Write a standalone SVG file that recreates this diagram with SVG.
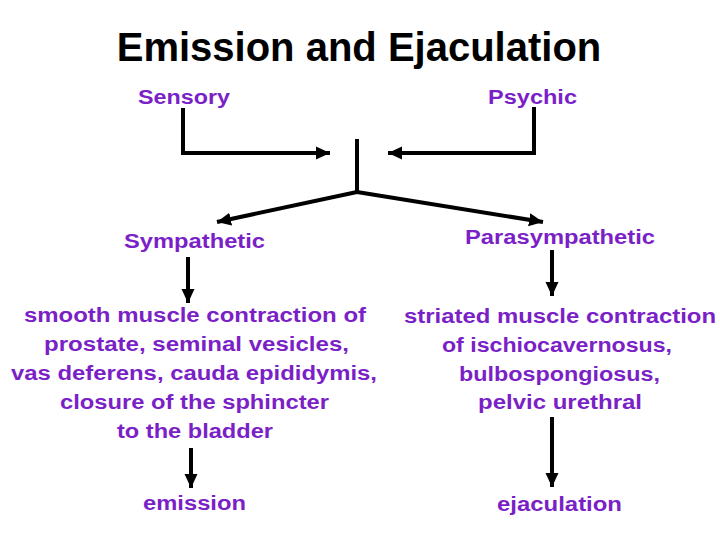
<svg xmlns="http://www.w3.org/2000/svg" width="720" height="540" viewBox="0 0 720 540">
<defs>
<marker id="ah" markerUnits="userSpaceOnUse" markerWidth="16" markerHeight="16" viewBox="0 0 16 16" refX="14" refY="8" orient="auto">
<path d="M0,1.5 L14,8 L0,14.5 Z" fill="#000"/>
</marker>
<style>
.t{font-family:"Liberation Sans",Arial,sans-serif;font-weight:bold;fill:#7B1FC7;font-size:20px}
.c{stroke:#000;stroke-width:4;fill:none;marker-end:url(#ah)}
.l{stroke:#000;stroke-width:4;fill:none}
</style>
</defs>
<rect width="720" height="540" fill="#fff"/>
<g id="title"><text x="359" y="61" text-anchor="middle" font-family="Liberation Sans, Arial, sans-serif" font-weight="bold" font-size="40" fill="#000">Emission and Ejaculation</text></g>
<g id="sensory"><text class="t" x="138" y="104" textLength="92" lengthAdjust="spacingAndGlyphs">Sensory</text></g>
<g id="psychic"><text class="t" x="488" y="104" textLength="89" lengthAdjust="spacingAndGlyphs">Psychic</text></g>
<g id="sympathetic"><text class="t" x="124" y="248" textLength="141" lengthAdjust="spacingAndGlyphs">Sympathetic</text></g>
<g id="parasympathetic"><text class="t" x="465" y="244" textLength="190" lengthAdjust="spacingAndGlyphs">Parasympathetic</text></g>
<g id="smooth">
<text class="t" x="24" y="322" textLength="342" lengthAdjust="spacingAndGlyphs">smooth muscle contraction of</text>
<text class="t" x="44" y="351" textLength="305" lengthAdjust="spacingAndGlyphs">prostate, seminal vesicles,</text>
<text class="t" x="11" y="380" textLength="366" lengthAdjust="spacingAndGlyphs">vas deferens, cauda epididymis,</text>
<text class="t" x="60" y="409" textLength="269" lengthAdjust="spacingAndGlyphs">closure of the sphincter</text>
<text class="t" x="117" y="438" textLength="156" lengthAdjust="spacingAndGlyphs">to the bladder</text>
</g>
<g id="striated">
<text class="t" x="404" y="323" textLength="312" lengthAdjust="spacingAndGlyphs">striated muscle contraction</text>
<text class="t" x="442" y="352" textLength="230" lengthAdjust="spacingAndGlyphs">of ischiocavernosus,</text>
<text class="t" x="459" y="381" textLength="201" lengthAdjust="spacingAndGlyphs">bulbospongiosus,</text>
<text class="t" x="478" y="409" textLength="164" lengthAdjust="spacingAndGlyphs">pelvic urethral</text>
</g>
<g id="emission"><text class="t" x="143" y="510" textLength="103" lengthAdjust="spacingAndGlyphs">emission</text></g>
<g id="ejaculation"><text class="t" x="497" y="511" textLength="125" lengthAdjust="spacingAndGlyphs">ejaculation</text></g>
<g id="connectors">
<path class="c" d="M183,108 V153 H330"/>
<path class="c" d="M534,107 V153 H388"/>
<path class="l" d="M357,139 V192"/>
<path class="c" d="M357,192 L217,222"/>
<path class="c" d="M357,192 L543,222"/>
<path class="c" d="M188,257 V303"/>
<path class="c" d="M552,250 V296"/>
<path class="c" d="M191,448 V488"/>
<path class="c" d="M552,417 V487"/>
</g>
</svg>
